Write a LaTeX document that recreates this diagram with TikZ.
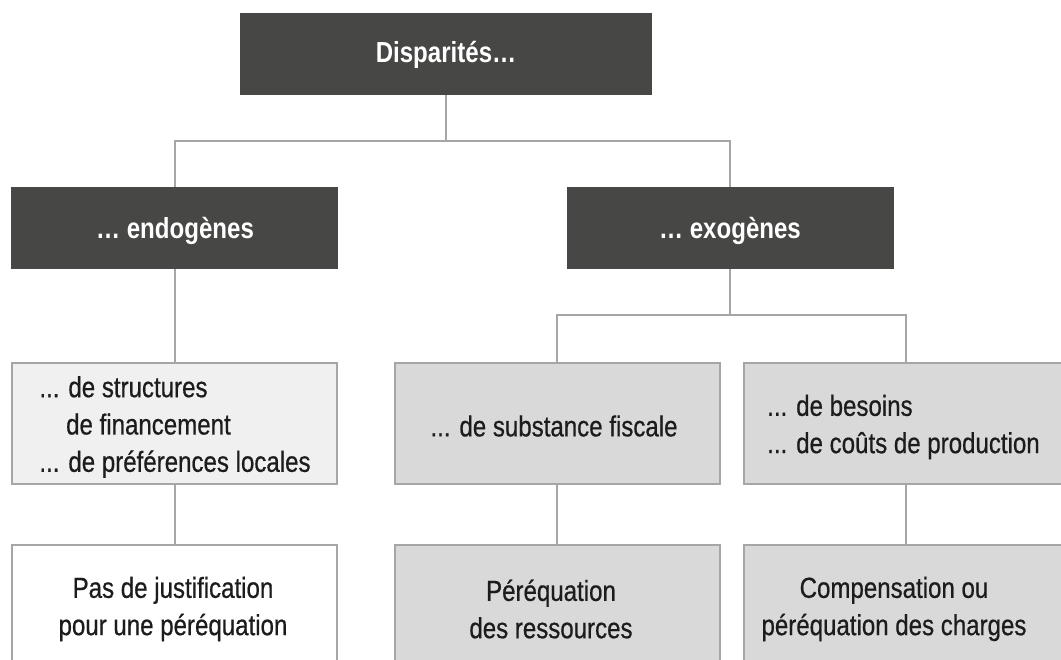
\documentclass[tikz,border=0pt]{standalone}
\usepackage{fontspec}
\setmainfont{Liberation Sans}[FakeStretch=0.83]
\newfontfamily\boxfont{Liberation Sans}[FakeStretch=0.83, FakeBold=0.6]
\definecolor{boxdark}{HTML}{474745}
\definecolor{boxgray}{HTML}{D9D9D9}
\definecolor{boxlight}{HTML}{F0F0F0}
\definecolor{rulegray}{HTML}{A6A6A6}
\definecolor{inkdark}{HTML}{1C1C1C}
\begin{document}
\begin{tikzpicture}[x=1pt,y=-1pt,
  every node/.style={inner sep=0pt, outer sep=0pt},
  txt/.style={font=\boxfont\fontsize{29}{37.3}\selectfont, text=inkdark},
  darktxt/.style={font=\fontsize{29}{37.3}\selectfont\bfseries, text=white},
  darkbox/.style={fill=boxdark, minimum width=412pt, minimum height=82pt},
  midbox/.style={fill=boxdark, minimum width=327pt, minimum height=82pt},
  graybox/.style={fill=boxgray, draw=rulegray, line width=2pt, minimum width=325pt, minimum height=121pt},
  lightbox/.style={graybox, fill=boxlight},
  whitebox/.style={graybox, fill=white},
  link/.style={draw=rulegray, line width=2pt}
]
\useasboundingbox (0,0) rectangle (1061,660);

% top level
\node[darkbox] (top) at (446,54) {};
\node[darktxt] (topT) at (446,55) {Disparités…};

% second level
\node[midbox] (endo) at (174.5,228) {};
\node[darktxt] (endoT) at (175,231) {… endogènes};
\node[midbox] (exo) at (730,228) {};
\node[darktxt] (exoT) at (730,231) {… exogènes};

% third level
\node[lightbox] (struct) at (174.5,423.5) {};
\node[txt, align=left] (structT) at (175,427) {... de structures\\\phantom{...} de financement\\... de préférences locales};
\node[graybox] (fisc) at (557,423.5) {};
\node[txt] (fiscT) at (554,426) {... de substance fiscale};
\node[graybox] (besoin) at (906,423.5) {};
\node[txt, align=left] (besoinT) at (903.5,427) {... de besoins\\... de coûts de production};

% fourth level
\node[whitebox] (pas) at (174.5,605.5) {};
\node[txt, align=center] (pasT) at (173,609) {Pas de justification\\pour une péréquation};
\node[graybox] (res) at (557,605.5) {};
\node[txt, align=center] (resT) at (551,609) {Péréquation\\des ressources};
\node[graybox] (comp) at (906,605.5) {};
\node[txt, align=center] (compT) at (894,609) {Compensation ou\\péréquation des charges};

% connectors
\draw[link] (top.south) -- ++(0,46) -| (endo.north);
\draw[link] (top.south) -- ++(0,46) -| (exo.north);
\draw[link] (endo.south) -- (struct.north);
\draw[link] (exo.south) -- ++(0,46) -| (fisc.north);
\draw[link] (exo.south) -- ++(0,46) -| (besoin.north);
\draw[link] (struct.south) -- (pas.north);
\draw[link] (fisc.south) -- (res.north);
\draw[link] (besoin.south) -- (comp.north);
\end{tikzpicture}
\end{document}
